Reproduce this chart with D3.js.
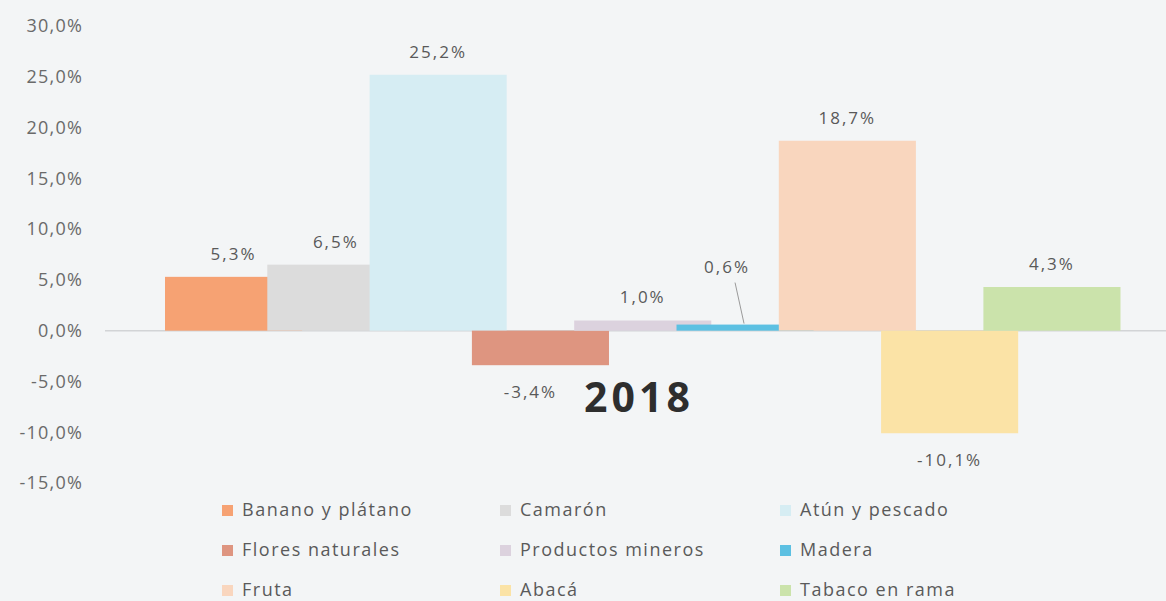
<!DOCTYPE html>
<html>
<head>
<meta charset="utf-8">
<script src="https://cdn.jsdelivr.net/npm/d3@7"></script>
<style>
  body { margin: 0; background: #f3f5f6; }
  svg { display: block; }
</style>
</head>
<body>
<script>
  // Export growth by product, 2018
  const categories = ['Banano y plátano', 'Camarón', 'Atún y pescado', 'Flores naturales',
    'Productos mineros', 'Madera', 'Fruta', 'Abacá', 'Tabaco en rama']
  const values = [5.3, 6.5, 25.2, -3.4, 1.0, 0.6, 18.7, -10.1, 4.3]
  const colors = ['#f6a273', '#dcdcdc', '#d6edf3', '#de9580', '#dcd2de', '#5cc0e2',
    '#f9d6be', '#fbe3a6', '#cbe3ab']
  const yTicks = [-15, -10, -5, 0, 5, 10, 15, 20, 25, 30]
  const yearLabel = '2018'

  const width = 1166
  const height = 601

  const svg = d3.select(document.body).append('svg')
    .attr('width', width)
    .attr('height', height)

  const fmt = (v) => v.toFixed(1).replace('.', ',') + '%'

  const y = d3.scaleLinear().domain([-15, 30]).range([483, 26])
  // slots overlap: each bar is wider than its step, later bars sit on top
  const x = d3.scaleBand().domain(categories).range([165, 165 + 9 * 102.3]).padding(0)
  const barW = x.bandwidth() * 1.34

  // y axis labels
  svg.append('g')
    .selectAll('text')
    .data(yTicks)
    .enter()
    .append('text')
    .attr('x', 83)
    .attr('y', (d) => y(d))
    .attr('dy', '0.35em')
    .attr('text-anchor', 'end')
    .attr('font-family', 'Open Sans')
    .attr('font-size', 18)
    .attr('letter-spacing', 1.2)
    .attr('fill', '#6a6a6a')
    .text(fmt)

  // zero line
  svg.append('line')
    .attr('x1', 105).attr('x2', width)
    .attr('y1', y(0)).attr('y2', y(0))
    .attr('stroke', '#d2d4d6')
    .attr('stroke-width', 1.5)

  // bars
  svg.append('g')
    .selectAll('rect')
    .data(categories)
    .enter()
    .append('rect')
    .attr('x', (d) => x(d))
    .attr('width', barW)
    .attr('y', (d, i) => y(Math.max(0, values[i])))
    .attr('height', (d, i) => Math.abs(y(values[i]) - y(0)))
    .attr('fill', (d, i) => colors[i])

  // data labels
  const labelPos = (d, i) => {
    const v = values[i]
    let cx = x(d) + barW / 2
    let cy = v >= 0 ? y(v) - 23 : y(v) + 27
    if (d === 'Madera') { cx -= 18; cy = y(v) - 58 }
    if (d === 'Flores naturales') cx -= 10
    return [cx, cy]
  }

  // leader line for the small Madera label
  const mi = categories.indexOf('Madera')
  const mp = labelPos('Madera', mi)
  svg.append('line')
    .attr('x1', mp[0] + 8).attr('y1', mp[1] + 16)
    .attr('x2', mp[0] + 17).attr('y2', y(values[mi]) - 1)
    .attr('stroke', '#9a9a9a')
    .attr('stroke-width', 1)

  svg.append('g')
    .selectAll('text')
    .data(categories)
    .enter()
    .append('text')
    .attr('x', (d, i) => labelPos(d, i)[0])
    .attr('y', (d, i) => labelPos(d, i)[1])
    .attr('dy', '0.35em')
    .attr('text-anchor', 'middle')
    .attr('font-family', 'Open Sans')
    .attr('font-size', 17)
    .attr('letter-spacing', 2)
    .attr('fill', '#595959')
    .text((d, i) => fmt(values[i]))

  // big year label
  svg.append('text')
    .attr('x', 639)
    .attr('y', 398)
    .attr('dy', '0.35em')
    .attr('text-anchor', 'middle')
    .attr('font-family', 'Open Sans')
    .attr('font-weight', 'bold')
    .attr('font-size', 41)
    .attr('letter-spacing', 4)
    .attr('fill', '#2e2e2e')
    .text(yearLabel)

  // legend, 3 columns by 3 rows
  const legendCols = [222, 500, 780]
  const legendRows = [510, 550, 590]
  const legend = svg.append('g')
    .selectAll('g')
    .data(categories)
    .enter()
    .append('g')
    .attr('transform', (d, i) => `translate(${legendCols[i % 3]},${legendRows[Math.floor(i / 3)]})`)

  legend.append('rect')
    .attr('x', 0).attr('y', -5)
    .attr('width', 11).attr('height', 11)
    .attr('fill', (d, i) => colors[i])

  legend.append('text')
    .attr('x', 20)
    .attr('dy', '0.35em')
    .attr('font-family', 'Open Sans')
    .attr('font-size', 18)
    .attr('letter-spacing', 1.5)
    .attr('fill', '#5a5a5a')
    .text((d) => d)
</script>
</body>
</html>
